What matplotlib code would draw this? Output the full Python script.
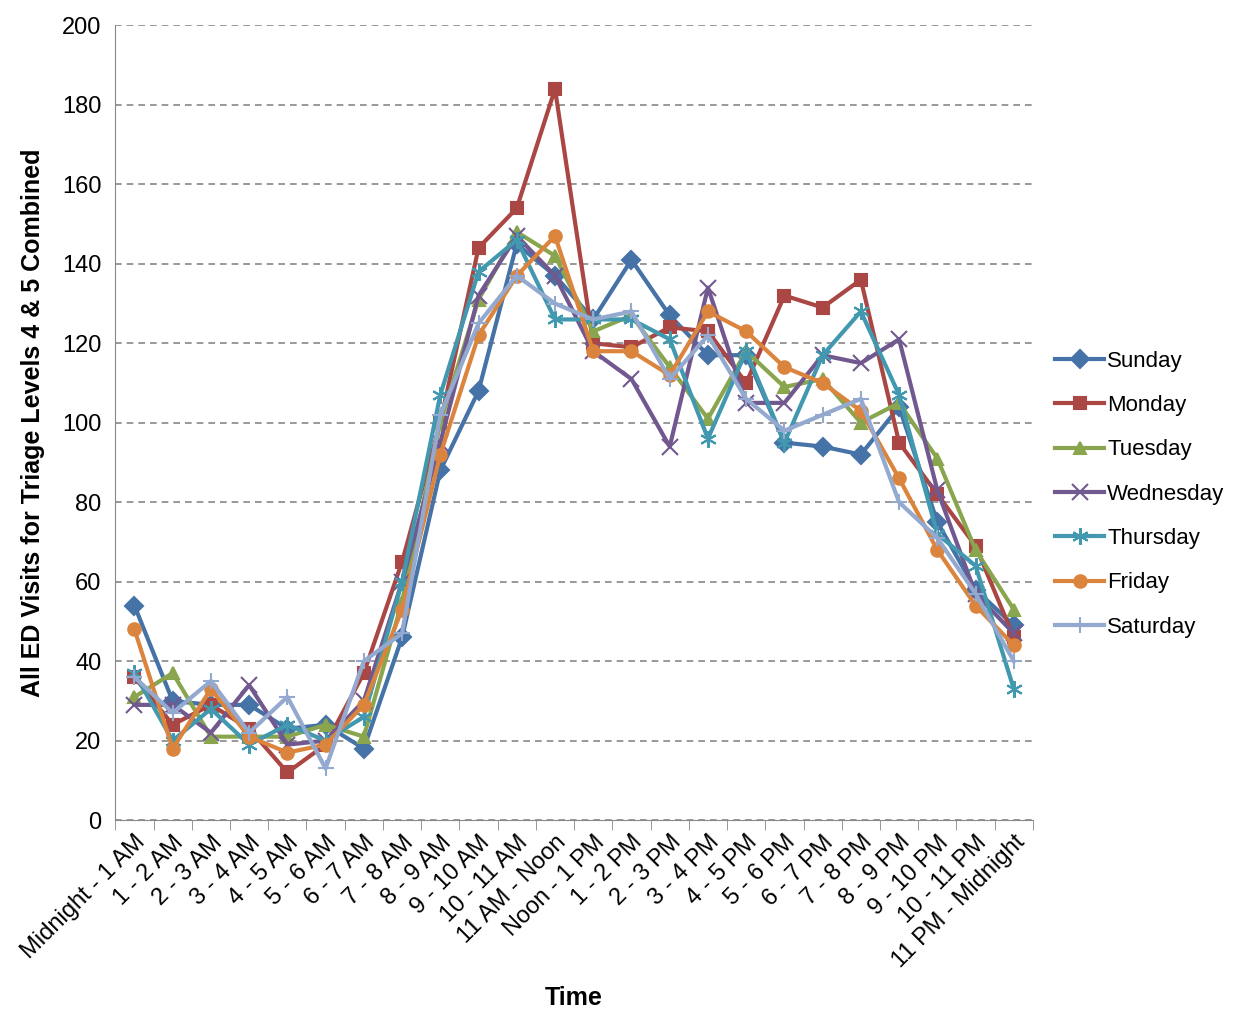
import matplotlib
matplotlib.use("Agg")
import matplotlib.pyplot as plt

hours = ["Midnight - 1 AM", "1 - 2 AM", "2 - 3 AM", "3 - 4 AM", "4 - 5 AM", "5 - 6 AM",
         "6 - 7 AM", "7 - 8 AM", "8 - 9 AM", "9 - 10 AM", "10 - 11 AM", "11 AM - Noon",
         "Noon - 1 PM", "1 - 2 PM", "2 - 3 PM", "3 - 4 PM", "4 - 5 PM", "5 - 6 PM",
         "6 - 7 PM", "7 - 8 PM", "8 - 9 PM", "9 - 10 PM", "10 - 11 PM", "11 PM - Midnight"]

sunday = [54, 30, 29, 29, 23, 24, 18, 46, 88, 108, 145, 137, 126, 141, 127, 117, 117, 95, 94, 92, 104, 75, 58, 49]
monday = [36, 24, 29, 23, 12, 19, 37, 65, 100, 144, 154, 184, 120, 119, 124, 123, 110, 132, 129, 136, 95, 82, 69, 46]
tuesday = [31, 37, 21, 21, 21, 24, 21, 55, 100, 131, 148, 142, 123, 127, 114, 101, 118, 109, 111, 100, 105, 91, 68, 53]
wednesday = [29, 29, 22, 34, 19, 20, 30, 60, 95, 132, 147, 137, 118, 111, 94, 134, 105, 105, 117, 115, 121, 83, 57, 47]
thursday = [37, 20, 28, 19, 24, 20, 26, 60, 107, 138, 146, 126, 126, 126, 121, 96, 118, 95, 117, 128, 107, 72, 64, 33]
friday = [48, 18, 33, 21, 17, 19, 29, 53, 92, 122, 137, 147, 118, 118, 112, 128, 123, 114, 110, 103, 86, 68, 54, 44]
saturday = [36, 27, 35, 22, 31, 13, 40, 47, 102, 125, 137, 130, 126, 128, 111, 122, 106, 98, 102, 106, 80, 71, 57, 40]

series = [
    ("Sunday", sunday, "#4572A7", "D"),
    ("Monday", monday, "#AA4643", "s"),
    ("Tuesday", tuesday, "#89A54E", "^"),
    ("Wednesday", wednesday, "#71588F", "x"),
    ("Thursday", thursday, "#4198AF", (6, 2, 0)),
    ("Friday", friday, "#DB843D", "o"),
    ("Saturday", saturday, "#93A9CF", "+"),
]

plt.rcParams['font.family'] = ['Liberation Sans', 'DejaVu Sans']
fig = plt.figure(figsize=(12.4, 10.15), dpi=100)
ax = fig.add_axes([0.093, 0.192, 0.74, 0.783])

x = range(len(hours))
for name, vals, color, marker in series:
    ms = 12 if marker in ("x", "+", (6, 2, 0)) else 9
    ax.plot(x, vals, color=color, marker=marker, markersize=ms, linewidth=3,
            markeredgewidth=1.5, label=name)

ax.set_xlim(-0.5, len(hours) - 0.5)
ax.set_ylim(0, 200)
ax.set_yticks(range(0, 201, 20))
ax.set_xticks(list(x))
ax.set_xticklabels(hours, rotation=45, ha="right", rotation_mode="anchor", fontsize=17)
ax.tick_params(axis="y", labelsize=17, length=0, pad=10)
ax.tick_params(axis="x", length=0, pad=8)
# category boundary ticks
ax.set_xticks([i - 0.5 for i in range(len(hours) + 1)], minor=True)
ax.tick_params(axis="x", which="minor", length=7, color="#888888")
ax.grid(axis="y", linestyle=(0, (4, 3)), color="#888888", linewidth=1.2)
for s in ["top", "right"]:
    ax.spines[s].set_visible(False)
ax.spines["left"].set_color("#888888")
ax.spines["bottom"].set_color("#888888")

ax.set_xlabel("Time", fontsize=18, fontweight="bold", labelpad=10)
ax.set_ylabel("All ED Visits for Triage Levels 4 & 5 Combined", fontsize=18, fontweight="bold", labelpad=12)

ax.legend(loc="center left", bbox_to_anchor=(1.0, 0.41), frameon=False, fontsize=16,
          handlelength=2.2, labelspacing=1.05, handletextpad=0.15, borderaxespad=0.6)

fig.savefig("out.png")
